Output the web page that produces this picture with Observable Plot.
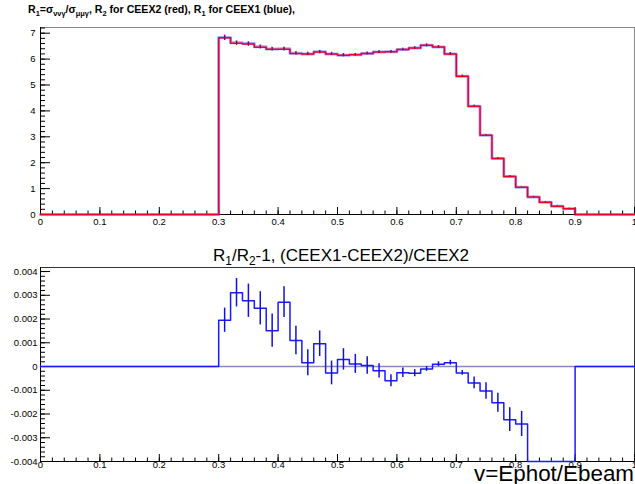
<!DOCTYPE html>
<html><head><meta charset="utf-8">
<script src="https://cdn.jsdelivr.net/npm/d3@7"></script>
<script src="https://cdn.jsdelivr.net/npm/@observablehq/plot@0.6"></script>
<style>
body{margin:0;background:#fff;font-family:"Liberation Sans",Arial,sans-serif;}
#wrap{position:relative;width:635px;height:484px;overflow:hidden;background:#fff;}
#wrap svg{position:absolute;left:0;}
.t{position:absolute;white-space:nowrap;color:#000;line-height:1;}
.s{font-size:70%;vertical-align:-0.35em;}
</style></head><body>
<div id="wrap">
<div class="t" style="left:28px;top:4px;font-weight:bold;font-size:10.6px;">R<span class="s">1</span>=σ<span class="s">ννγ</span>/σ<span class="s">μμγ</span>, R<span class="s">2</span> for CEEX2 (red), R<span class="s">1</span> for CEEX1 (blue),</div>
<div class="t" style="left:213px;top:247px;font-size:17px;">R<span class="s">1</span>/R<span class="s">2</span>-1, (CEEX1-CEEX2)/CEEX2</div>
<div class="t" style="right:1px;top:463px;font-size:22.4px;">v=Ephot/Ebeam</div>
</div>
<script>
// bin edges: 50 bins of width 0.02 on v in [0,1]
const binEdges = d3.range(51).map(i => +(i * 0.02).toFixed(2));

// R2 (CEEX2, red) per bin
const ceex2 = [
  0,0,0,0,0, 0,0,0,0,0, 0,0,0,0,0,
  6.82,6.61,6.58,6.46,6.38, 6.38,6.22,6.20,6.27,6.20,
  6.15,6.17,6.22,6.27,6.28, 6.37,6.43,6.53,6.47,6.20,
  5.34,4.18,3.06,2.16,1.47, 1.05,0.68,0.47,0.32,0.22,
  0,0,0,0,0
];
// R1 (CEEX1, blue) per bin
const ceex1 = [
  0,0,0,0,0, 0,0,0,0,0, 0,0,0,0,0,
  6.83,6.63,6.60,6.48,6.39, 6.40,6.23,6.20,6.28,6.20,
  6.15,6.17,6.22,6.27,6.28, 6.37,6.43,6.53,6.47,6.20,
  5.34,4.18,3.06,2.16,1.47, 1.05,0.68,0.47,0.32,0.22,
  0,0,0,0,0
];
const ceex2Err = [
  0,0,0,0,0, 0,0,0,0,0, 0,0,0,0,0,
  0.10,0.08,0.08,0.07,0.07, 0.07,0.06,0.06,0.06,0.06,
  0.06,0.05,0.05,0.05,0.05, 0.05,0.05,0.05,0.05,0.05,
  0.04,0.04,0.03,0.03,0.03, 0.02,0.02,0.02,0.02,0.02,
  0,0,0,0,0
];
// R1/R2 - 1
const ratio = [
  0,0,0,0,0, 0,0,0,0,0, 0,0,0,0,0,
  0.00195,0.00311,0.00277,0.00245,0.00151, 0.00271,0.00110,0.00016,0.00096,-0.00027,
  0.00030,0.00011,0.00004,-0.00018,-0.00060, -0.00026,-0.00028,-0.00010,0.00010,0.00016,
  -0.00027,-0.00069,-0.00103,-0.00153,-0.00224, -0.00242,-1,-1,-1,-1,
  0,0,0,0,0
];
const ratioErr = [
  0,0,0,0,0, 0,0,0,0,0, 0,0,0,0,0,
  0.00051,0.00060,0.00070,0.00070,0.00070, 0.00065,0.00060,0.00055,0.00054,0.00050,
  0.00045,0.00040,0.00037,0.00030,0.00025, 0.00020,0.00015,0.00010,0.00010,0.00010,
  0.00010,0.00025,0.00035,0.00040,0.00050, 0.00053,0,0,0,0,
  0,0,0,0,0
];

const xMajor = [0,0.1,0.2,0.3,0.4,0.5,0.6,0.7,0.8,0.9,1];
const xLabels = ["0","0.1","0.2","0.3","0.4","0.5","0.6","0.7","0.8","0.9","1"];
const yTopMajor = [0,1,2,3,4,5,6,7];
const yBotMajor = [-0.004,-0.003,-0.002,-0.001,0,0.001,0.002,0.003,0.004];
const yBotLabels = ["-0.004","-0.003","-0.002","-0.001","0","0.001","0.002","0.003","0.004"];

const yTopDomain = [0, 7.22];
const yBotDomain = [-0.004, 0.00417];

const xMinor = d3.range(0, 51).map(i => +(i * 0.02).toFixed(2));
const yTopMinor = d3.range(0, 37).map(i => +(i * 0.2).toFixed(1));
const yBotMinor = d3.range(-20, 21).map(i => +(i * 0.0002).toFixed(4));

function steps(vals) {
  return binEdges.map((e, i) => ({x: e, y: vals[Math.min(i, vals.length - 1)]}));
}
function errs(vals, err) {
  const out = [];
  vals.forEach((v, i) => { if (err[i] > 0) out.push({x: binEdges[i] + 0.01, y1: v - err[i], y2: v + err[i]}); });
  return out;
}
const fmtX = d => xLabels[xMajor.indexOf(d)];
const fmtYB = d => yBotLabels[yBotMajor.indexOf(d)];
const style = {fontFamily: "'Liberation Sans', Arial, sans-serif", fontSize: "9.5px", color: "#000", background: "transparent"};

const topPlot = Plot.plot({
  width: 635, height: 240, marginLeft: 40, marginRight: 1, marginTop: 27, marginBottom: 26,
  style,
  x: {domain: [0, 1]},
  y: {domain: yTopDomain},
  marks: [
    Plot.frame({stroke: "#888"}),
    Plot.axisX(xMajor, {tickSize: -7, tickPadding: 11, tickFormat: fmtX, label: null}),
    Plot.axisX(xMinor, {tickSize: -3.5, tickFormat: () => "", label: null}),
    Plot.axisY(yTopMajor, {tickSize: -10, tickPadding: 15, tickFormat: d => String(d), label: null}),
    Plot.axisY(yTopMinor, {tickSize: -5, tickFormat: () => "", label: null}),
    Plot.ruleY([yTopDomain[0]], {stroke: "#000"}),
    Plot.ruleX([0], {stroke: "#000"}),
    Plot.line(steps(ceex1), {x: "x", y: "y", curve: "step-after", stroke: "#5050ff", strokeWidth: 3, strokeOpacity: 0.5}),
    Plot.ruleX(errs(ceex1, ceex2Err), {x: "x", y1: "y1", y2: "y2", stroke: "#6040c0", strokeWidth: 2, strokeOpacity: 0.5}),
    Plot.line(steps(ceex2), {x: "x", y: "y", curve: "step-after", stroke: "#e8002a", strokeWidth: 1.5}),
    Plot.ruleX(errs(ceex2, ceex2Err), {x: "x", y1: "y1", y2: "y2", stroke: "#a00030", strokeWidth: 1.2})
  ]
});
topPlot.style.top = "0px";

const botPlot = Plot.plot({
  width: 635, height: 244, marginLeft: 40, marginRight: 1, marginTop: 27, marginBottom: 23,
  style,
  x: {domain: [0, 1]},
  y: {domain: yBotDomain, clamp: true},
  marks: [
    Plot.frame({stroke: "#333"}),
    Plot.axisX(xMajor, {tickSize: -7, tickPadding: 7, tickFormat: fmtX, label: null}),
    Plot.axisX(xMinor, {tickSize: -3.5, tickFormat: () => "", label: null}),
    Plot.axisY(yBotMajor, {tickSize: -10, tickPadding: 13, tickFormat: fmtYB, label: null}),
    Plot.axisY(yBotMinor, {tickSize: -5, tickFormat: () => "", label: null}),
    Plot.ruleY([yBotDomain[0]], {stroke: "#000"}),
    Plot.ruleX([0], {stroke: "#000"}),
    Plot.ruleY([0], {stroke: "#8a8ab8", strokeWidth: 1.5}),
    Plot.line(steps(ratio), {x: "x", y: "y", curve: "step-after", stroke: "#1a1aff", strokeWidth: 1.5}),
    Plot.ruleX(errs(ratio, ratioErr), {x: "x", y1: "y1", y2: "y2", stroke: "#1010e0", strokeWidth: 1.5})
  ]
});
botPlot.style.top = "240px";

const wrap = document.getElementById("wrap");
wrap.insertBefore(botPlot, wrap.firstChild);
wrap.insertBefore(topPlot, wrap.firstChild);
</script>
</body></html>
